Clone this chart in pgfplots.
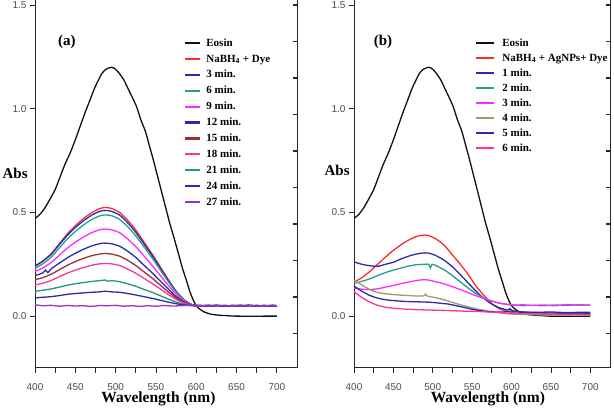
\documentclass[border=0pt]{standalone}
\usepackage{fontspec}
\setmainfont{Liberation Serif}
\setsansfont{Liberation Sans}
\usepackage{pgfplots}
\pgfplotsset{compat=1.18}
\definecolor{cEos}{HTML}{111111}
\definecolor{cRed}{HTML}{FF2A2A}
\definecolor{cBlue}{HTML}{2A2AB0}
\definecolor{cTeal}{HTML}{22A08C}
\definecolor{cMag}{HTML}{FF2AFF}
\definecolor{cBrown}{HTML}{993333}
\definecolor{cPink}{HTML}{FF3399}
\definecolor{cGreen}{HTML}{229977}
\definecolor{cPurple}{HTML}{9933CC}
\definecolor{cOlive}{HTML}{9C9C6A}
\pgfplotsset{
  base/.style={
    scale only axis, height=368pt, xmin=400, xmax=725, ymin=-0.25, ymax=1.524,
    axis x line*=bottom, axis y line*=left,
    axis line style={draw=black!85, line width=1pt},
    xtick={400,450,...,700}, minor x tick num=1,
    ytick={0,0.5,1.0,1.5},
    tick align=outside, major tick length=5pt, minor tick length=5pt,
    every tick/.style={black!85, line width=0.8pt},
    tick label style={font=\sffamily\fontsize{10}{12}\selectfont, text=black!70},
    xticklabel style={inner sep=0pt, anchor=north},
    xticklabel shift=10pt,
    /pgf/number format/assume math mode=true,
    yticklabel style={/pgf/number format/.cd, fixed, fixed zerofill, precision=1},
    xlabel={\bfseries\fontsize{15.5}{18}\selectfont Wavelength (nm)},
    ylabel={\bfseries\fontsize{15}{18}\selectfont Abs},
    ylabel style={rotate=-90, anchor=center},
    xlabel style={anchor=center, inner sep=0pt},
    legend cell align=left,
    every axis plot/.append style={line width=1.3pt, smooth, tension=0.4},
  },
  rightax/.style={
    scale only axis, height=368pt, xmin=400, xmax=725, ymin=-0.25, ymax=1.524,
    axis y line*=right, axis x line=none,
    axis line style={draw=black!85, line width=1pt},
    ytick={-0.084,0.092,0.268,0.444,0.62,0.796,0.972,1.148,1.324,1.5},
    yticklabels={}, tick align=inside, major tick length=4pt,
    every tick/.style={black!85, line width=1.5pt},
  }
}
\begin{document}
\begin{tikzpicture}
\path[use as bounding box] (0,0) rectangle (614pt,420pt);
% ---------------- panel (a)
\begin{axis}[base, at={(35pt,52pt)}, anchor=south west, width=262pt,
  xlabel style={at={(axis description cs:0.471,-0.085)}},
  ylabel style={at={(axis description cs:-0.076,0.53)}},
  legend style={draw=none, fill=none, at={(axis description cs:0.5687,0.897)}, anchor=north west,
    inner sep=0pt, row sep=5.9pt, column sep=5pt,
    nodes={inner sep=0pt, text height=8pt, text depth=2pt, font=\bfseries\fontsize{11}{13}\selectfont}},
  legend image code/.code={\draw[line width=2.2pt] (0pt,0pt) -- (15pt,0pt);},
]
\addplot[cEos] coordinates {(400,0.471) (406,0.49) (412,0.52) (418,0.56) (425,0.61) (431,0.67) (437,0.73) (444,0.79) (450,0.85) (456,0.915) (462,0.98) (468,1.04) (474,1.10) (479,1.14) (483,1.17) (488,1.19) (495,1.20) (500,1.19) (505,1.168) (510,1.14) (515,1.10) (520,1.06) (526,1.01) (531,0.95) (537,0.89) (542,0.82) (547,0.75) (552,0.675) (557,0.60) (562,0.525) (567,0.45) (573,0.37) (578,0.30) (583,0.23) (588,0.17) (592,0.12) (596,0.08) (600,0.05) (605,0.032) (610,0.02) (615,0.013) (620,0.008) (630,0.004) (640,0.002) (650,0.0) (700,0.0)};
\addlegendentry{Eosin}
\addplot[cRed] coordinates {(400,0.240) (410,0.266) (420,0.300) (430,0.348) (440,0.396) (450,0.436) (460,0.470) (470,0.498) (480,0.518) (487,0.524) (495,0.519) (505,0.500) (515,0.462) (525,0.415) (535,0.358) (545,0.301) (555,0.240) (565,0.178) (575,0.121) (585,0.078) (595,0.055) (605,0.051) (615,0.049) (625,0.052) (635,0.048) (645,0.051) (655,0.049) (665,0.052) (675,0.049) (685,0.051) (695,0.048) (700,0.05)};
\addlegendentry{NaBH\textsubscript{4} + Dye}
\addplot[cBlue] coordinates {(400,0.242) (410,0.266) (420,0.298) (430,0.344) (440,0.389) (450,0.427) (460,0.459) (470,0.486) (480,0.505) (487,0.510) (495,0.505) (505,0.487) (515,0.450) (525,0.404) (535,0.349) (545,0.294) (555,0.234) (565,0.174) (575,0.119) (585,0.078) (595,0.055) (605,0.049) (615,0.052) (625,0.048) (635,0.051) (645,0.049) (655,0.052) (665,0.048) (675,0.051) (685,0.049) (695,0.052) (700,0.05)};
\addlegendentry{3 min.}
\addplot[cTeal] coordinates {(400,0.230) (410,0.253) (420,0.284) (430,0.328) (440,0.372) (450,0.408) (460,0.439) (470,0.465) (480,0.483) (487,0.488) (495,0.484) (505,0.466) (515,0.431) (525,0.387) (535,0.335) (545,0.282) (555,0.225) (565,0.168) (575,0.116) (585,0.076) (595,0.054) (605,0.051) (615,0.049) (625,0.052) (635,0.048) (645,0.051) (655,0.049) (665,0.052) (675,0.049) (685,0.051) (695,0.048) (700,0.05)};
\addlegendentry{6 min.}
\addplot[cMag] coordinates {(400,0.215) (410,0.233) (420,0.258) (430,0.293) (440,0.328) (450,0.356) (460,0.381) (470,0.402) (480,0.416) (487,0.420) (495,0.416) (505,0.402) (515,0.372) (525,0.335) (535,0.291) (545,0.246) (555,0.198) (565,0.150) (575,0.106) (585,0.072) (595,0.054) (605,0.049) (615,0.052) (625,0.048) (635,0.051) (645,0.049) (655,0.052) (665,0.048) (675,0.051) (685,0.049) (695,0.052) (700,0.05)};
\addlegendentry{9 min.}
\addplot[cBlue] coordinates {(400,0.195) (410,0.209) (413,0.222) (416,0.210) (420,0.228) (430,0.255) (440,0.281) (450,0.303) (460,0.322) (470,0.338) (480,0.349) (487,0.352) (495,0.349) (505,0.337) (515,0.313) (525,0.283) (535,0.246) (545,0.210) (555,0.171) (565,0.132) (575,0.095) (585,0.068) (595,0.053) (605,0.051) (615,0.049) (625,0.052) (635,0.048) (645,0.051) (655,0.049) (665,0.052) (675,0.049) (685,0.051) (695,0.048) (700,0.05)};
\addlegendentry{12 min.}
\addplot[cBrown] coordinates {(400,0.175) (410,0.186) (420,0.202) (430,0.223) (440,0.245) (450,0.263) (460,0.278) (470,0.291) (480,0.299) (487,0.302) (495,0.299) (505,0.289) (515,0.269) (525,0.244) (535,0.214) (545,0.184) (555,0.151) (565,0.118) (575,0.088) (585,0.065) (595,0.053) (605,0.049) (615,0.052) (625,0.048) (635,0.051) (645,0.049) (655,0.052) (665,0.048) (675,0.051) (685,0.049) (695,0.052) (700,0.05)};
\addlegendentry{15 min.}
\addplot[cPink] coordinates {(400,0.150) (410,0.159) (420,0.172) (430,0.190) (440,0.207) (450,0.222) (460,0.234) (470,0.245) (480,0.252) (487,0.254) (495,0.252) (505,0.244) (515,0.227) (525,0.207) (535,0.183) (545,0.158) (555,0.132) (565,0.105) (575,0.081) (585,0.062) (595,0.052) (605,0.051) (615,0.049) (625,0.052) (635,0.048) (645,0.051) (655,0.049) (665,0.052) (675,0.049) (685,0.051) (695,0.048) (700,0.05)};
\addlegendentry{18 min.}
\addplot[cGreen] coordinates {(400,0.120) (410,0.125) (420,0.131) (430,0.140) (440,0.149) (450,0.156) (460,0.162) (470,0.167) (480,0.171) (487,0.174) (490,0.168) (495,0.171) (505,0.166) (515,0.156) (525,0.144) (535,0.129) (545,0.115) (555,0.099) (565,0.083) (575,0.068) (585,0.057) (595,0.051) (605,0.049) (615,0.052) (625,0.048) (635,0.051) (645,0.049) (655,0.052) (665,0.048) (675,0.051) (685,0.049) (695,0.052) (700,0.05)};
\addlegendentry{21 min.}
\addplot[cBlue] coordinates {(400,0.088) (410,0.091) (420,0.094) (430,0.099) (440,0.105) (450,0.109) (460,0.112) (470,0.115) (480,0.117) (487,0.120) (495,0.117) (505,0.115) (515,0.109) (525,0.102) (535,0.094) (545,0.086) (555,0.077) (565,0.068) (575,0.060) (585,0.054) (595,0.051) (605,0.051) (615,0.049) (625,0.052) (635,0.048) (645,0.051) (655,0.049) (665,0.052) (675,0.049) (685,0.051) (695,0.048) (700,0.05)};
\addlegendentry{24 min.}
\addplot[cPurple] coordinates {(400,0.055) (410,0.050) (420,0.052) (430,0.048) (440,0.051) (450,0.049) (460,0.050) (470,0.047) (480,0.051) (490,0.050) (500,0.052) (510,0.048) (520,0.050) (530,0.047) (540,0.050) (550,0.048) (560,0.051) (570,0.049) (580,0.050) (590,0.052) (600,0.049) (610,0.051) (620,0.048) (630,0.052) (640,0.049) (650,0.051) (660,0.048) (670,0.052) (680,0.049) (690,0.051) (700,0.049)};
\addlegendentry{27 min.}
\node[font=\bfseries\fontsize{15}{18}\selectfont] at (axis description cs:0.122,0.886) {(a)};
\end{axis}
\begin{axis}[rightax, at={(35pt,52pt)}, anchor=south west, width=262pt]
\end{axis}
% ---------------- panel (b)
\begin{axis}[base, at={(354pt,52pt)}, anchor=south west, width=256pt,
  xlabel style={at={(axis description cs:0.523,-0.085)}},
  ylabel style={at={(axis description cs:-0.066,0.538)}},
  legend style={draw=none, fill=none, at={(axis description cs:0.4727,0.897)}, anchor=north west,
    inner sep=0pt, row sep=5pt, column sep=7pt,
    nodes={inner sep=0pt, text height=8pt, text depth=2pt, font=\bfseries\fontsize{11}{13}\selectfont}},
  legend image code/.code={\draw[line width=2.2pt] (0pt,0pt) -- (18pt,0pt);},
]
\addplot[cEos] coordinates {(400,0.471) (406,0.49) (412,0.52) (418,0.56) (425,0.61) (431,0.67) (437,0.73) (444,0.79) (450,0.85) (456,0.915) (462,0.98) (468,1.04) (474,1.10) (479,1.14) (483,1.17) (488,1.19) (495,1.20) (500,1.19) (505,1.168) (510,1.14) (515,1.10) (520,1.06) (526,1.01) (531,0.95) (537,0.89) (542,0.82) (547,0.75) (552,0.675) (557,0.60) (562,0.525) (567,0.45) (573,0.37) (578,0.30) (583,0.23) (588,0.17) (592,0.12) (596,0.08) (600,0.05) (605,0.032) (610,0.02) (615,0.013) (620,0.008) (630,0.004) (640,0.002) (650,0.0) (700,0.0)};
\addlegendentry{Eosin}
\addplot[cRed] coordinates {(400,0.165) (410,0.185) (420,0.215) (430,0.25) (440,0.285) (450,0.317) (460,0.345) (470,0.368) (480,0.385) (490,0.391) (495,0.388) (505,0.37) (515,0.34) (525,0.295) (535,0.25) (545,0.20) (555,0.145) (565,0.10) (575,0.06) (585,0.035) (595,0.022) (605,0.015) (615,0.011) (630,0.009) (645,0.010) (660,0.007) (675,0.009) (690,0.006) (700,0.008)};
\addlegendentry{NaBH\textsubscript{4} + AgNPs+ Dye}
\addplot[cBlue] coordinates {(400,0.262) (410,0.25) (420,0.243) (430,0.24) (440,0.25) (450,0.26) (460,0.276) (470,0.29) (480,0.30) (490,0.305) (497,0.302) (505,0.29) (515,0.268) (525,0.238) (535,0.20) (545,0.16) (555,0.12) (565,0.085) (575,0.058) (585,0.04) (595,0.03) (598,0.036) (602,0.025) (615,0.02) (630,0.018) (650,0.02) (670,0.017) (690,0.019) (700,0.018)};
\addlegendentry{1 min.}
\addplot[cTeal] coordinates {(400,0.158) (410,0.168) (420,0.18) (430,0.195) (440,0.21) (450,0.222) (460,0.232) (470,0.242) (480,0.248) (490,0.25) (495,0.25) (497,0.232) (499,0.25) (505,0.242) (515,0.222) (525,0.195) (535,0.165) (545,0.135) (555,0.108) (565,0.088) (575,0.072) (585,0.062) (595,0.056) (605,0.053) (615,0.05) (625,0.053) (640,0.05) (655,0.054) (670,0.051) (685,0.055) (700,0.052)};
\addlegendentry{2 min.}
\addplot[cMag] coordinates {(400,0.135) (410,0.13) (420,0.128) (430,0.132) (440,0.14) (450,0.148) (460,0.157) (470,0.165) (480,0.172) (490,0.176) (497,0.172) (505,0.165) (515,0.155) (525,0.142) (535,0.128) (545,0.113) (555,0.098) (565,0.085) (575,0.073) (585,0.063) (595,0.057) (605,0.053) (615,0.055) (625,0.051) (640,0.054) (655,0.05) (670,0.056) (685,0.052) (700,0.054)};
\addlegendentry{3 min.}
\addplot[cOlive] coordinates {(400,0.172) (410,0.15) (420,0.128) (430,0.114) (440,0.108) (450,0.104) (460,0.101) (470,0.099) (480,0.097) (489,0.098) (491,0.106) (493,0.097) (505,0.088) (515,0.078) (525,0.066) (535,0.055) (545,0.045) (555,0.035) (565,0.028) (575,0.022) (585,0.016) (600,0.01) (650,0.005) (700,0.003)};
\addlegendentry{4 min.}
\addplot[cBlue] coordinates {(400,0.145) (410,0.12) (420,0.10) (430,0.087) (440,0.079) (450,0.075) (460,0.072) (470,0.07) (480,0.069) (490,0.068) (500,0.066) (510,0.062) (520,0.058) (530,0.05) (540,0.042) (550,0.033) (560,0.027) (570,0.022) (580,0.02) (590,0.02) (600,0.025) (610,0.02) (650,0.015) (700,0.012)};
\addlegendentry{5 min.}
\addplot[cPink] coordinates {(400,0.118) (410,0.09) (420,0.068) (430,0.052) (440,0.043) (450,0.038) (460,0.035) (470,0.033) (480,0.031) (490,0.03) (500,0.029) (520,0.027) (540,0.024) (560,0.022) (580,0.018) (600,0.014) (650,0.01) (700,0.008)};
\addlegendentry{6 min.}
\node[font=\bfseries\fontsize{15}{18}\selectfont] at (axis description cs:0.113,0.886) {(b)};
\end{axis}
\begin{axis}[rightax, at={(354pt,52pt)}, anchor=south west, width=256pt]
\end{axis}
\end{tikzpicture}
\end{document}
